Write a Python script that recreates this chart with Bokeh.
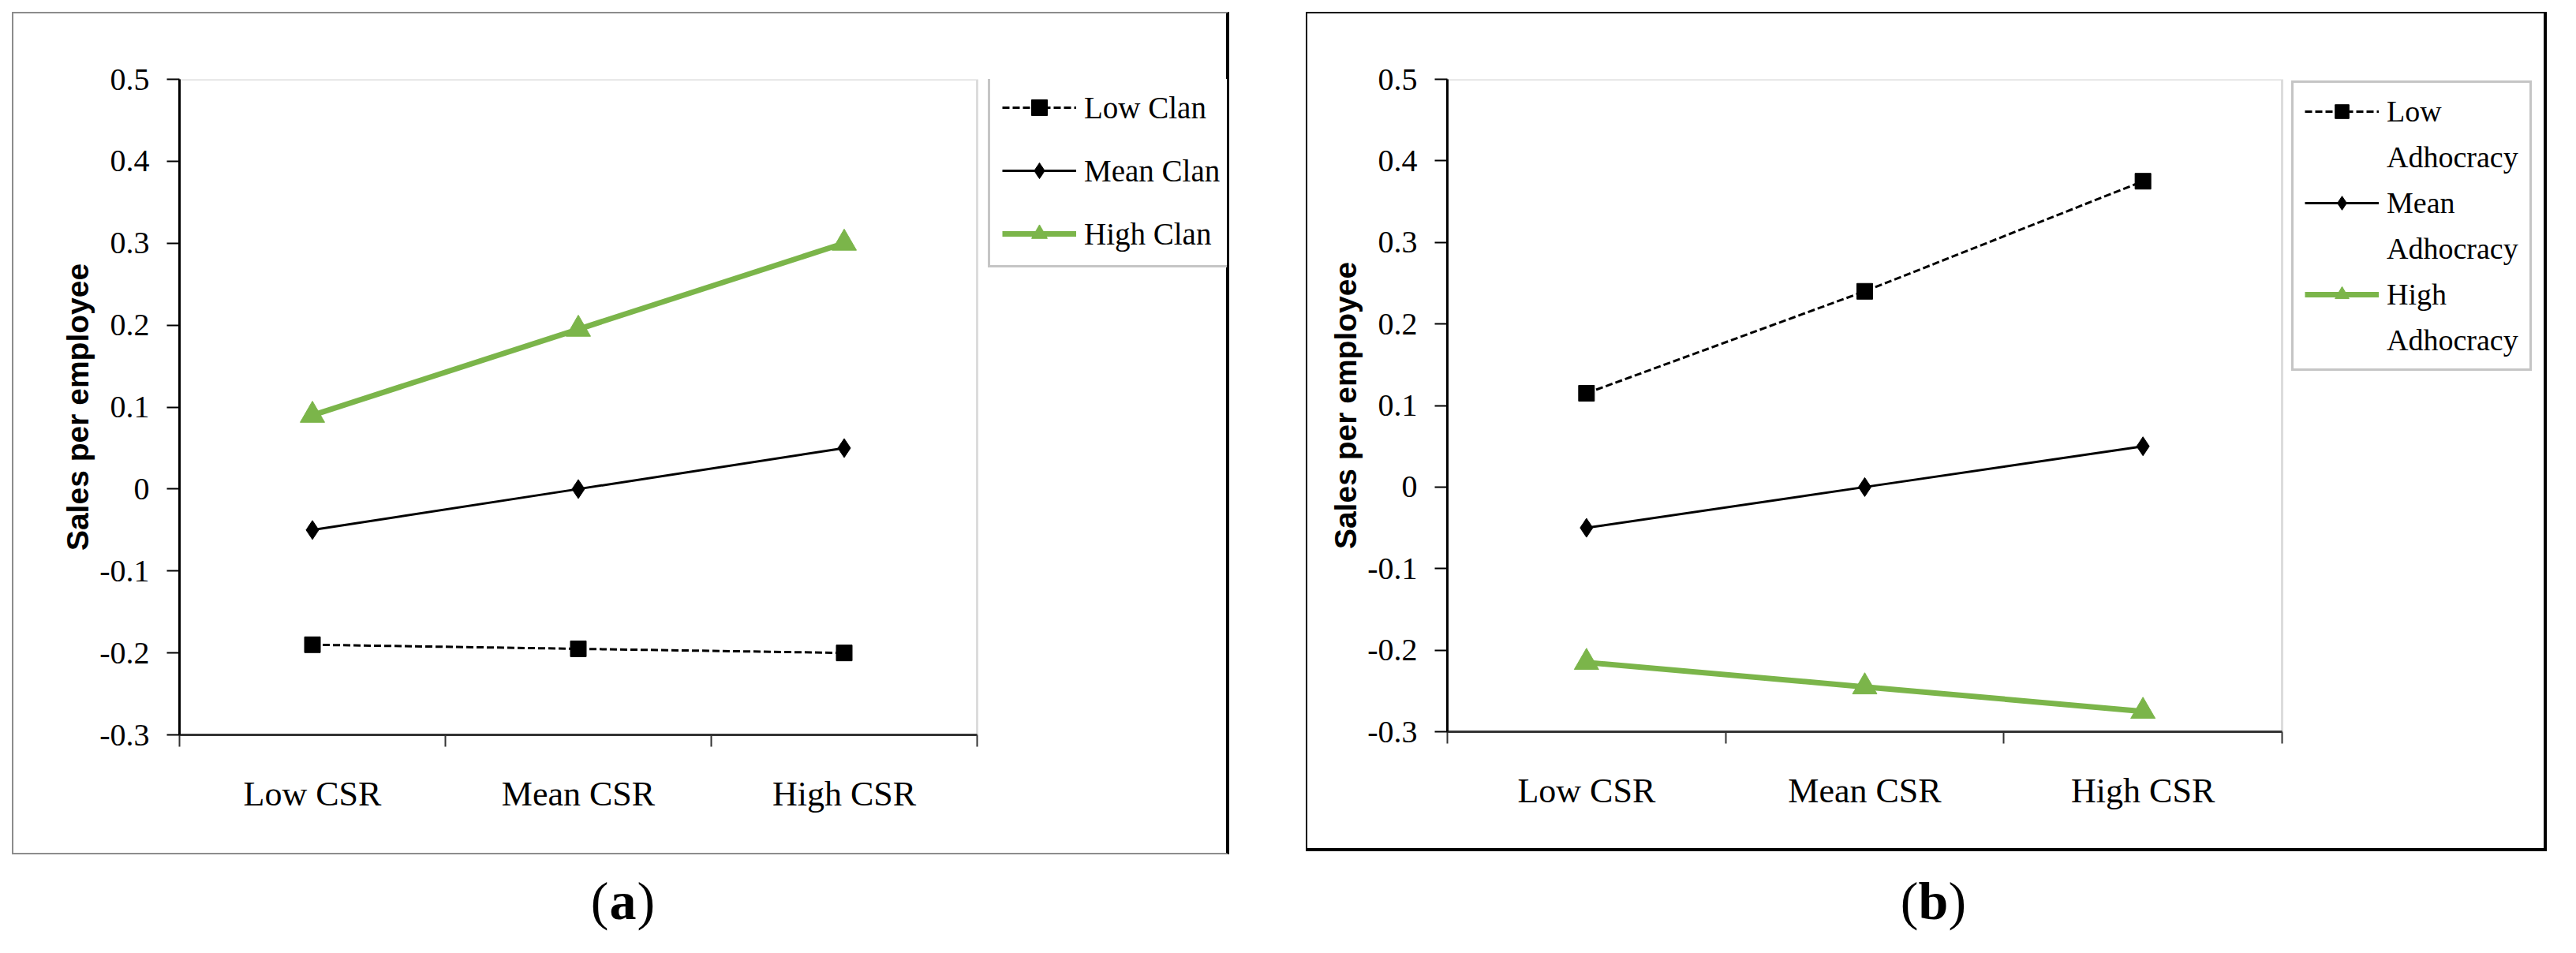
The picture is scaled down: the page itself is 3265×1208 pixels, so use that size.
from bokeh.plotting import figure
from bokeh.models import (Range1d, LinearAxis, FixedTicker, BoxAnnotation,
                          NumeralTickFormatter, Legend, LegendItem, Spacer)
from bokeh.layouts import row, column
from bokeh.embed import file_html
from bokeh.resources import INLINE
from bokeh.core.properties import value

# ---------------- data ----------------
categories = ["Low CSR", "Mean CSR", "High CSR"]
y_ticks = [-0.3, -0.2, -0.1, 0, 0.1, 0.2, 0.3, 0.4, 0.5]
y_min, y_max = -0.3, 0.5
y_title = "Sales per employee"

clan_labels = ["Low Clan", "Mean Clan", "High Clan"]
clan_low = [-0.19, -0.195, -0.20]
clan_mean = [-0.05, 0.0, 0.05]
clan_high = [0.09, 0.195, 0.30]

adh_labels = [["Low", "Adhocracy"], ["Mean", "Adhocracy"], ["High", "Adhocracy"]]
adh_low = [0.115, 0.24, 0.375]
adh_mean = [-0.05, 0.0, 0.05]
adh_high = [-0.215, -0.245, -0.275]

captions = ["a", "b"]

# category slots (centre of each category band on a 0..n axis) and band edges
n_cat = len(categories)
cat_pos = [i + 0.5 for i in range(n_cat)]
cat_edges = list(range(n_cat + 1))

# ---------------- styles ----------------
GREEN = "#7BB54A"
SERIF = "Liberation Serif"
SERIES_STYLE = [
    dict(line_color="black", line_width=3, line_dash="9 4", marker="square", size=20, color="black"),
    dict(line_color="black", line_width=3, line_dash="solid", marker="diamond", size=24, color="black"),
    dict(line_color=GREEN, line_width=7, line_dash="solid", marker="triangle", size=31, color=GREEN),
]


def make_panel(width, height, borders, plot_w, series, legend_rows, legend_cfg):
    left, right, top, bottom = borders
    frame_w = width - left - right
    # the frame also holds the legend; the category axis only covers plot_w pixels of it
    x_end = n_cat * frame_w / plot_w
    p = figure(width=width, height=height,
               x_range=Range1d(0, x_end),
               y_range=Range1d(y_min, y_max),
               x_axis_location=None, y_axis_location="left",
               output_backend="svg", toolbar_location=None,
               min_border_left=left, min_border_right=right,
               min_border_top=top, min_border_bottom=bottom)
    p.grid.visible = False
    p.background_fill_color = "white"
    p.border_fill_color = "white"
    p.outline_line_color = None

    # plot-area box (grey top / right edges)
    p.add_layout(BoxAnnotation(left=0, right=n_cat, bottom=y_min, top=y_max,
                               fill_alpha=0, line_color="#8c8c8c", line_width=3,
                               level="underlay"))

    # y axis
    ya = p.yaxis[0]
    ya.ticker = FixedTicker(ticks=y_ticks)
    ya.formatter = NumeralTickFormatter(format="0.[0]")
    ya.axis_line_color = "black"
    ya.axis_line_width = 3
    ya.major_tick_line_color = "black"
    ya.major_tick_line_width = 2
    ya.major_tick_out = 16
    ya.major_tick_in = 0
    ya.minor_tick_line_color = None
    ya.major_label_text_font = SERIF
    ya.major_label_text_font_size = "40px"
    ya.major_label_text_color = "black"
    ya.major_label_standoff = 22
    ya.axis_label = y_title
    ya.axis_label_text_font = "Liberation Sans"
    ya.axis_label_text_font_style = "bold"
    ya.axis_label_text_font_size = "39px"
    ya.axis_label_text_color = "black"
    ya.axis_label_standoff = 3

    # x axis: category names at band centres, tick marks (minor) at band edges
    xa = LinearAxis(ticker=FixedTicker(ticks=cat_pos, minor_ticks=cat_edges),
                    bounds=(0, n_cat),
                    major_label_overrides={pos: name for pos, name in zip(cat_pos, categories)})
    xa.axis_line_color = "#333333"
    xa.axis_line_width = 3
    xa.major_tick_line_color = None
    xa.major_tick_out = 0
    xa.major_tick_in = 0
    xa.minor_tick_line_color = "#333333"
    xa.minor_tick_line_width = 2
    xa.minor_tick_out = 15
    xa.minor_tick_in = 0
    xa.major_label_text_font = SERIF
    xa.major_label_text_font_size = "44px"
    xa.major_label_text_color = "black"
    xa.major_label_standoff = 35
    p.add_layout(xa, "below")

    rends = []
    for vals, st in zip(series, SERIES_STYLE):
        lr = p.line(x=cat_pos, y=vals, line_color=st["line_color"], line_width=st["line_width"],
                    line_dash=st["line_dash"])
        sr = p.scatter(x=cat_pos, y=vals, marker=st["marker"], size=st["size"],
                       fill_color=st["color"], line_color=st["color"])
        rends.append([lr, sr])

    items = []
    dummy = None
    for rows_, rr in zip(legend_rows, rends):
        items.append(LegendItem(label=rows_[0], renderers=rr))
        for extra in rows_[1:]:
            if dummy is None:
                dummy = p.line(x=[], y=[], line_alpha=0)
            items.append(LegendItem(label=extra, renderers=[dummy]))

    leg = Legend(items=items, location=legend_cfg["location"], margin=0,
                 padding=legend_cfg["padding"], spacing=legend_cfg["spacing"],
                 glyph_width=94, glyph_height=legend_cfg["glyph_height"],
                 label_height=legend_cfg["glyph_height"], label_standoff=10,
                 label_text_font=SERIF, label_text_font_size=legend_cfg["font"],
                 label_text_color="black",
                 border_line_color="#8c8c8c", border_line_width=3,
                 background_fill_color="white", background_fill_alpha=1.0)
    p.add_layout(leg)
    return p


def make_captions(width, height, centres):
    c = figure(width=width, height=height, x_range=Range1d(0, width), y_range=Range1d(0, height),
               x_axis_location=None, y_axis_location=None, output_backend="svg",
               toolbar_location=None, min_border=0)
    c.grid.visible = False
    c.outline_line_color = None
    fs = "68px"
    cy = height - 58
    for letter, cx in zip(captions, centres):
        half = 18 if letter == "a" else 19
        c.text(x=[cx - half], y=[cy], text=["("], text_font=value(SERIF), text_font_size=fs,
               text_align="right", text_baseline="middle", text_color="black")
        c.text(x=[cx], y=[cy], text=[letter], text_font=value(SERIF), text_font_size=fs,
               text_font_style="bold", text_align="center", text_baseline="middle",
               text_color="black")
        c.text(x=[cx + half], y=[cy], text=[")"], text_font=value(SERIF), text_font_size=fs,
               text_align="left", text_baseline="middle", text_color="black")
    return c


pa = make_panel(1543, 1068, (210, 5, 82, 154), 1011, [clan_low, clan_mean, clan_high],
                [[l] for l in clan_labels],
                dict(location=(1025, 592), padding=15, spacing=30, glyph_height=50, font="39px"))
pa.styles = {"border-left": "2px solid #8c8c8c", "border-top": "2px solid #8c8c8c",
             "border-bottom": "2px solid #8c8c8c", "border-right": "4px solid #000000"}

pb = make_panel(1573, 1064, (177, 5, 83, 152), 1058, [adh_low, adh_mean, adh_high],
                adh_labels,
                dict(location=(1070, 457), padding=14, spacing=14, glyph_height=44, font="38px"))
pb.styles = {"border-left": "2px solid #000000", "border-top": "2px solid #000000",
             "border-bottom": "4px solid #000000", "border-right": "4px solid #000000"}

caps = make_captions(3240, 105, [789, 2450])

panels = row(Spacer(width=15, height=10), pa, Spacer(width=97, height=10), pb)
layout = column(Spacer(width=10, height=15), panels, caps)

open("out.html", "w").write(file_html(layout, INLINE))
